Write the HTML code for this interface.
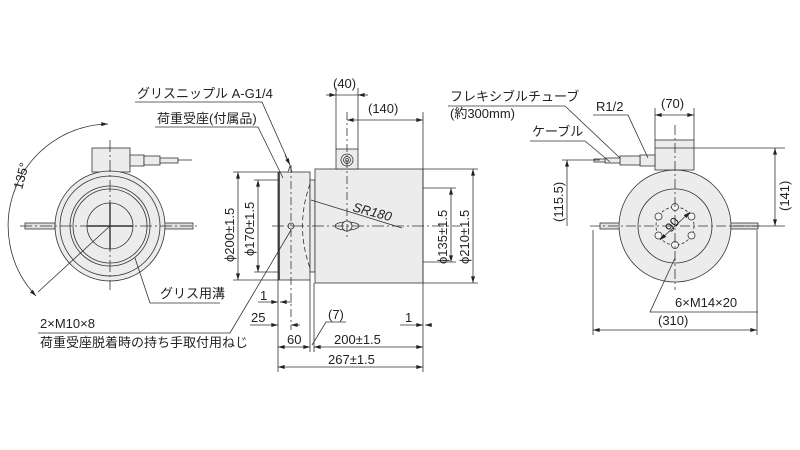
<!DOCTYPE html>
<html><head><meta charset="utf-8"><style>
html,body{margin:0;padding:0;background:#fff;}
svg{display:block;}
text{font-family:"Liberation Sans","Noto Sans CJK JP",sans-serif;font-size:13px;fill:#222;}
</style></head><body>
<svg width="800" height="450" viewBox="0 0 800 450" xmlns="http://www.w3.org/2000/svg">
<defs>
<marker id="a" viewBox="0 0 10 6" refX="10" refY="3" markerWidth="9" markerHeight="5" orient="auto-start-reverse"><path d="M0,0 L10,3 L0,6 z" fill="#222"/></marker>
</defs>
<g stroke="#333" stroke-width="0.8" fill="none">
<!-- LEFT VIEW -->
<rect x="92" y="148" width="38" height="24" fill="#ececec"/>
<g fill="#ececec"><rect x="130" y="155" width="14" height="11"/><rect x="144" y="156" width="16" height="9"/><rect x="160" y="158" width="18" height="5"/></g>
<line x1="178" y1="160" x2="192" y2="160"/>
<rect x="25" y="223" width="30" height="6" fill="#e0e0e0"/><rect x="163" y="223" width="30" height="6" fill="#e0e0e0"/>
<circle cx="110" cy="226" r="55" fill="#ececec"/>
<circle cx="110" cy="226" r="50"/>
<circle cx="110" cy="226" r="40"/>
<circle cx="110" cy="226" r="37"/>
<circle cx="110" cy="226" r="23"/>
<line x1="110" y1="203" x2="110" y2="249" stroke-width="1.4"/>
<line x1="87" y1="226" x2="133" y2="226" stroke-width="1.4"/>
<line x1="20" y1="226" x2="200" y2="226" stroke-dasharray="12,3,2,3"/>
<line x1="110" y1="140" x2="110" y2="290" stroke-dasharray="12,3,2,3"/>
<line x1="110" y1="226" x2="38" y2="292"/>
<path d="M108,124 A102,102 0 0 0 36,296" marker-start="url(#a)" marker-end="url(#a)"/>
<!-- MIDDLE VIEW -->
<rect x="278" y="172" width="32" height="108" fill="#ececec"/>
<line x1="279" y1="172" x2="279" y2="280" stroke-width="1.6"/>
<rect x="310" y="180" width="5" height="92" fill="#ececec"/>
<rect x="315" y="169" width="108" height="114" fill="#ececec"/>
<rect x="336" y="149" width="22" height="20" fill="#ececec"/>
<circle cx="347" cy="160" r="6"/><circle cx="347" cy="160" r="3.5"/><circle cx="347" cy="160" r="1.5"/>
<path d="M288,172 l2,-6 l2,6" fill="#ececec"/>
<circle cx="291" cy="226" r="3" fill="#ddd"/>
<path d="M310,184 Q295,226 310,268" stroke-dasharray="5,3"/>
<ellipse cx="347" cy="226" rx="12" ry="4" fill="#ececec"/>
<circle cx="347" cy="226" r="5" fill="#ececec"/>
<line x1="272" y1="226" x2="460" y2="226" stroke-dasharray="12,3,2,3"/>
<line x1="291" y1="165" x2="291" y2="330" stroke-dasharray="8,3,2,3"/>
<line x1="347" y1="112" x2="347" y2="240" stroke-dasharray="8,3,2,3"/>
<line x1="311" y1="200" x2="402" y2="228"/>
<!-- extension lines -->
<line x1="336" y1="88" x2="336" y2="149"/><line x1="358" y1="88" x2="358" y2="149"/>
<line x1="423" y1="112" x2="423" y2="372"/>
<line x1="278" y1="280" x2="278" y2="372"/>
<line x1="310" y1="280" x2="310" y2="352"/><line x1="314" y1="283" x2="314" y2="352"/>
<line x1="233" y1="172" x2="278" y2="172"/><line x1="233" y1="280" x2="278" y2="280"/>
<line x1="254" y1="180" x2="278" y2="180"/><line x1="254" y1="272" x2="278" y2="272"/>
<line x1="423" y1="188" x2="456" y2="188"/><line x1="423" y1="262" x2="456" y2="262"/>
<line x1="423" y1="169" x2="478" y2="169"/><line x1="423" y1="283" x2="478" y2="283"/>
<!-- dims -->
<line x1="326" y1="95" x2="336" y2="95" marker-end="url(#a)"/><line x1="368" y1="95" x2="358" y2="95" marker-end="url(#a)"/><line x1="336" y1="95" x2="358" y2="95"/>
<line x1="347" y1="120" x2="423" y2="120" marker-start="url(#a)" marker-end="url(#a)"/>
<line x1="238" y1="172" x2="238" y2="280" marker-start="url(#a)" marker-end="url(#a)"/>
<line x1="258" y1="180" x2="258" y2="272" marker-start="url(#a)" marker-end="url(#a)"/>
<line x1="451" y1="188" x2="451" y2="262" marker-start="url(#a)" marker-end="url(#a)"/>
<line x1="473" y1="169" x2="473" y2="283" marker-start="url(#a)" marker-end="url(#a)"/>
<line x1="258" y1="302" x2="278" y2="302" marker-end="url(#a)"/><line x1="292" y1="302" x2="280" y2="302" marker-end="url(#a)"/>
<line x1="250" y1="325" x2="278" y2="325" marker-end="url(#a)"/><line x1="300" y1="325" x2="291" y2="325" marker-end="url(#a)"/>
<line x1="400" y1="325" x2="423" y2="325" marker-end="url(#a)"/><line x1="432" y1="325" x2="425" y2="325" marker-end="url(#a)"/>
<line x1="278" y1="347" x2="310" y2="347" marker-start="url(#a)" marker-end="url(#a)"/>
<line x1="314" y1="347" x2="423" y2="347" marker-start="url(#a)" marker-end="url(#a)"/>
<line x1="278" y1="367" x2="423" y2="367" marker-start="url(#a)" marker-end="url(#a)"/>
<polyline points="346,322 326,322 312,345"/>
<!-- leaders left -->
<polyline points="135,102 262,102 290,165" /><line x1="285" y1="155" x2="290" y2="165" marker-end="url(#a)"/>
<polyline points="155,127 258,127 283,178"/>
<polyline points="220,303 150,303 135,258"/>
<polyline points="38,333 230,333 291,230"/>
<!-- RIGHT VIEW -->
<rect x="655" y="140" width="39" height="30" fill="#ececec"/>
<line x1="655" y1="148" x2="694" y2="148"/>
<g fill="#ececec"><rect x="640" y="155" width="15" height="11"/><rect x="620" y="156" width="20" height="9"/><rect x="605" y="158" width="15" height="5"/><rect x="594" y="159" width="11" height="3"/></g>
<rect x="600" y="223" width="22" height="6" fill="#e0e0e0"/><rect x="728" y="223" width="30" height="6" fill="#e0e0e0"/>
<circle cx="675" cy="226" r="56" fill="#ececec"/>
<circle cx="675" cy="226" r="37"/>
<circle cx="675" cy="226" r="19" stroke-dasharray="3,2"/>
<g fill="#f4f4f4"><circle cx="675" cy="207" r="3.5"/><circle cx="675" cy="245" r="3.5"/><circle cx="658.5" cy="216.5" r="3.5"/><circle cx="691.5" cy="216.5" r="3.5"/><circle cx="658.5" cy="235.5" r="3.5"/><circle cx="691.5" cy="235.5" r="3.5"/></g>
<line x1="675" y1="125" x2="675" y2="290" stroke-dasharray="10,3,2,3"/>
<line x1="590" y1="226" x2="760" y2="226" stroke-dasharray="10,3,2,3"/>
<line x1="660" y1="240" x2="690" y2="212" marker-start="url(#a)" marker-end="url(#a)"/>
<line x1="655" y1="108" x2="655" y2="140"/><line x1="694" y1="108" x2="694" y2="140"/>
<line x1="655" y1="115" x2="694" y2="115" marker-start="url(#a)" marker-end="url(#a)"/>
<line x1="694" y1="148" x2="785" y2="148"/><line x1="730" y1="226" x2="785" y2="226"/>
<line x1="775" y1="148" x2="775" y2="226" marker-start="url(#a)" marker-end="url(#a)"/>
<line x1="562" y1="160" x2="600" y2="160"/>
<line x1="567" y1="160" x2="567" y2="226" marker-start="url(#a)"/>
<line x1="593" y1="230" x2="593" y2="335"/><line x1="757" y1="230" x2="757" y2="335"/>
<line x1="593" y1="330" x2="757" y2="330" marker-start="url(#a)" marker-end="url(#a)"/>
<polyline points="758,312 650,312 675,258"/>
<polyline points="448,106 565,106 620,158"/>
<polyline points="530,141 585,141 610,162"/>
<polyline points="593,115 628,115 648,158"/>
</g>
<!-- text -->
<text x="137" y="98">グリスニップル A-G1/4</text>
<text x="157" y="123">荷重受座(付属品)</text>
<text x="160" y="298">グリス用溝</text>
<text x="40" y="328">2×M10×8</text>
<text x="40" y="347">荷重受座脱着時の持ち手取付用ねじ</text>
<text x="0" y="0" transform="translate(22,190) rotate(-75)">135°</text>
<text x="333" y="88">(40)</text>
<text x="368" y="113">(140)</text>
<text x="0" y="0" transform="translate(234,262) rotate(-90)">ϕ200±1.5</text>
<text x="0" y="0" transform="translate(254,256) rotate(-90)">ϕ170±1.5</text>
<text x="0" y="0" transform="translate(447,264) rotate(-90)">ϕ135±1.5</text>
<text x="0" y="0" transform="translate(469,264) rotate(-90)">ϕ210±1.5</text>
<text x="0" y="0" transform="translate(352,211) rotate(15)" style="font-style:italic">SR180</text>
<text x="260" y="300">1</text>
<text x="251" y="322">25</text>
<text x="287" y="344">60</text>
<text x="328" y="319">(7)</text>
<text x="405" y="322">1</text>
<text x="334" y="344">200±1.5</text>
<text x="328" y="364">267±1.5</text>
<text x="450" y="101">フレキシブルチューブ</text>
<text x="450" y="118">(約300mm)</text>
<text x="532" y="136">ケーブル</text>
<text x="596" y="111">R1/2</text>
<text x="661" y="108">(70)</text>
<text x="0" y="0" transform="translate(789,211) rotate(-90)">(141)</text>
<text x="0" y="0" transform="translate(563,222) rotate(-90)">(115.5)</text>
<text x="0" y="0" transform="translate(671,233) rotate(-50)">90</text>
<text x="675" y="307">6×M14×20</text>
<text x="658" y="325">(310)</text>
</svg>
</body></html>
